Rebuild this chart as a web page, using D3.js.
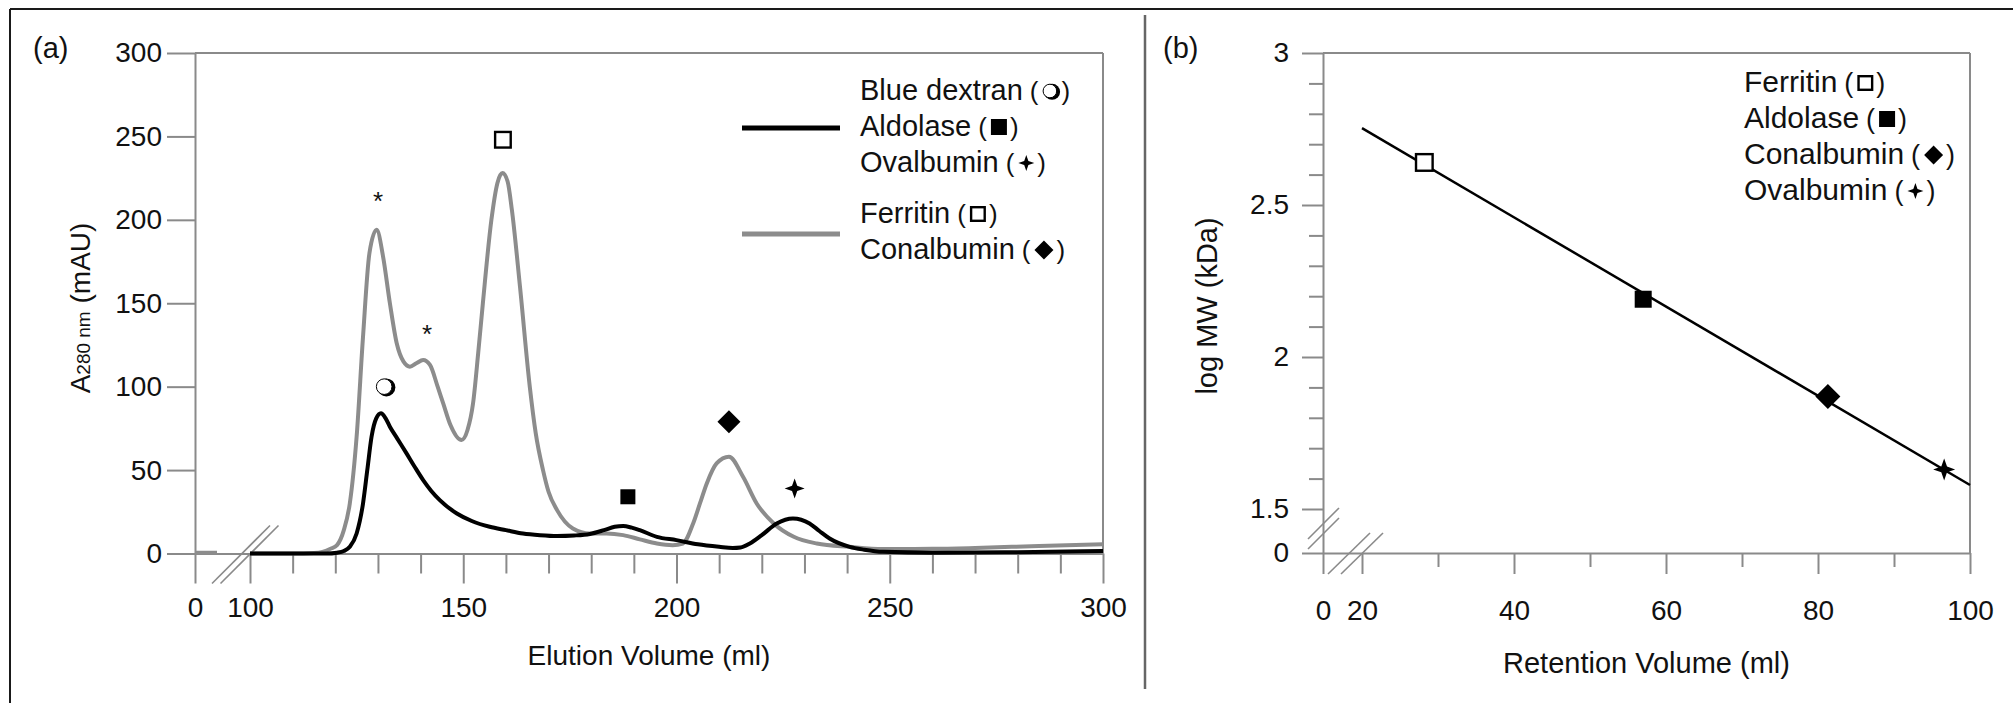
<!DOCTYPE html>
<html>
<head>
<meta charset="utf-8">
<script src="https://cdnjs.cloudflare.com/ajax/libs/d3/7.8.5/d3.min.js"></script>
<style>
body { margin: 0; background: #fff; }
text { font-family: "Liberation Sans", Arial, sans-serif; fill: #111; }
</style>
</head>
<body>
<script>
// (a) elution profiles (ml, mAU)
var grayVol = [0, 40, 70, 100, 110, 115, 117, 119, 120.4, 122, 123.4, 125, 126.5, 128, 129.7, 131.2, 132.8, 134.4, 136, 137.5, 139, 140.6, 142.2, 144, 145.3, 147, 149.6, 151, 152.3, 153.5, 154.6, 156.6, 158, 159.2, 160.4, 161.4, 163.3, 165.6, 167, 168.7, 170, 172, 175.7, 179.7, 183.6, 187.5, 191.4, 195.4, 199.1, 201.5, 203.9, 205.5, 207.1, 209.4, 212.3, 215.6, 218.8, 222.8, 227.5, 232.9, 240.6, 248.4, 260, 270, 285, 300];
var grayAbs = [0.5, 0.5, null, 0, 0, 0.3, 1, 3, 5, 14, 30, 70, 130, 180, 194, 178, 150, 126, 115, 112, 114, 116, 113, 100, 90, 77, 68, 74, 90, 120, 150, 200, 222, 228, 223, 206, 160, 100, 72, 50, 37, 26, 15, 12, 12, 11, 8.5, 6, 5, 6, 18, 30, 42, 54, 58, 46, 30, 18, 10, 6, 4, 2.7, 2.8, 3.3, 4.5, 5.5];

var blackVol = [100, 118, 120.4, 122, 123.4, 125, 126.5, 127.5, 128.5, 129.6, 130.7, 131.8, 132.8, 134.5, 136.7, 138.6, 140.6, 142.5, 144.5, 148.5, 152, 156.2, 160, 164, 168, 172, 176, 179.7, 183, 185.5, 187.5, 189.5, 191.4, 195.4, 200, 205, 210, 213.2, 215, 217.2, 220, 223.5, 227.3, 231.2, 233.5, 235.9, 240.6, 244, 248.4, 260, 280, 300];
var blackAbs = [0, 0, 0.5, 1.5, 4, 12, 30, 50, 70, 81, 84, 81, 76, 69, 60, 52, 44, 37.5, 32, 24, 19.5, 16, 14, 12, 11, 10.5, 10.8, 11.7, 14, 16, 16.5, 15.5, 14, 10, 8, 5.5, 4, 3.3, 3.6, 6, 11, 18, 21, 18, 13.5, 9, 4, 2.3, 1, 0.5, 0.8, 1.5];

// peak labels in (a)
var peakVol = [131.6, 159.3, 188.6, 212.3, 227.7];
var peakAbs = [100, 248, 34, 79, 39];
var peakSym = ["shadow", "open", "square", "diamond", "star"];
var asteriskVol = [130, 141.5];
var asteriskAbs = [215, 135];

var legendNamesA = ["Blue dextran", "Aldolase", "Ovalbumin", "Ferritin", "Conalbumin"];
var legendSymsA = ["shadow", "square", "star", "open", "diamond"];

// (b) calibration
var proteinsB = ["Ferritin", "Aldolase", "Conalbumin", "Ovalbumin"];
var symsB = ["open", "square", "diamond", "star"];
var retVol = [28.2, 57.0, 81.3, 96.6];
var logMW = [2.64, 2.19, 1.87, 1.63];
var fitVol = [20, 100];
var fitLog = [2.753, 1.579];

// tick values
var xTicksA = [0, 100, 150, 200, 250, 300];
var xMinorA = [110, 120, 130, 140, 160, 170, 180, 190, 210, 220, 230, 240, 260, 270, 280, 290];
var yTicksA = [0, 50, 100, 150, 200, 250, 300];
var xTicksB = [0, 20, 40, 60, 80, 100];
var xMinorB = [30, 50, 70, 90];
var yTicksB = [0, 1.5, 2, 2.5, 3];
var yMinorB = [1.6, 1.7, 1.8, 1.9, 2.1, 2.2, 2.3, 2.4, 2.6, 2.7, 2.8, 2.9];

var axisGray = "#8a8a8a";

var svg = d3.select("body").append("svg")
  .attr("width", 2013)
  .attr("height", 703);

// broken axes -> polylinear scales
var xA = d3.scaleLinear().domain([0, 100, 300]).range([195, 250, 1103]);
var yA = d3.scaleLinear().domain([0, 300]).range([553.5, 53]);
var xB = d3.scaleLinear().domain([0, 20, 100]).range([1323, 1362, 1970]);
var yB = d3.scaleLinear().domain([0, 1.5, 3]).range([553, 509, 53]);

// outer frame + divider
svg.append("line").attr("x1", 10).attr("y1", 9).attr("x2", 2013).attr("y2", 9)
  .attr("stroke", "#1a1a1a").attr("stroke-width", 2);
svg.append("line").attr("x1", 10).attr("y1", 9).attr("x2", 10).attr("y2", 703)
  .attr("stroke", "#1a1a1a").attr("stroke-width", 2);
svg.append("line").attr("x1", 1145).attr("y1", 15).attr("x2", 1145).attr("y2", 689)
  .attr("stroke", "#666").attr("stroke-width", 2.5);

function styleAxis(g, fs) {
  g.attr("font-family", null).attr("font-size", null);
  g.select(".domain").attr("stroke", axisGray).attr("stroke-width", 2);
  g.selectAll(".tick line").attr("stroke", axisGray).attr("stroke-width", 2);
  g.selectAll(".tick text").attr("fill", "#111").style("font-size", fs + "px");
}

function drawSym(g, type, cx, cy, s) {
  if (type == "shadow") {
    g.append("circle").attr("cx", cx + 1.6).attr("cy", cy + 0.8).attr("r", s / 2).attr("fill", "#000");
    g.append("circle").attr("cx", cx - 0.6).attr("cy", cy).attr("r", s / 2 - 1.2)
      .attr("fill", "#fff").attr("stroke", "#000").attr("stroke-width", 1);
  } else if (type == "square") {
    g.append("rect").attr("x", cx - s / 2).attr("y", cy - s / 2).attr("width", s).attr("height", s).attr("fill", "#000");
  } else if (type == "open") {
    g.append("rect").attr("x", cx - s / 2 + 1.2).attr("y", cy - s / 2 + 1.2)
      .attr("width", s - 2.4).attr("height", s - 2.4)
      .attr("fill", "#fff").attr("stroke", "#000").attr("stroke-width", 2.4);
  } else if (type == "diamond") {
    var h = s / 2;
    g.append("path").attr("d", "M" + cx + "," + (cy - h) + "L" + (cx + h) + "," + cy + "L" + cx + "," + (cy + h) + "L" + (cx - h) + "," + cy + "Z")
      .attr("fill", "#000");
  } else if (type == "star") {
    var r = s / 2, k = r * 0.26;
    var pts = [[0, -r], [k, -k], [r, 0], [k, k], [0, r], [-k, k], [-r, 0], [-k, -k]];
    g.append("path").attr("d", "M" + pts.map(function(p) { return (cx + p[0]) + "," + (cy + p[1]); }).join("L") + "Z")
      .attr("fill", "#000");
  }
}

// legend row: name + (symbol)
function legendRow(g, x, y, name, sym, fs, ss) {
  var t = g.append("text").attr("x", x).attr("y", y).style("font-size", fs + "px").text(name);
  var w = t.node().getComputedTextLength();
  var p1 = g.append("text").attr("x", x + w + 7).attr("y", y).style("font-size", (fs - 3) + "px").text("(");
  var pw = p1.node().getComputedTextLength();
  var sx = x + w + 7 + pw + 4;
  drawSym(g, sym, sx + ss / 2, y - 9, ss);
  g.append("text").attr("x", sx + ss + 3).attr("y", y).style("font-size", (fs - 3) + "px").text(")");
}

// ================= panel (a) =================
var gA = svg.append("g");

gA.append("line").attr("x1", xA(0)).attr("y1", yA(300)).attr("x2", xA(300)).attr("y2", yA(300))
  .attr("stroke", axisGray).attr("stroke-width", 2);
gA.append("line").attr("x1", xA(300)).attr("y1", yA(300)).attr("x2", xA(300)).attr("y2", yA(0))
  .attr("stroke", axisGray).attr("stroke-width", 2);

var axXA = gA.append("g").attr("transform", "translate(0," + yA(0) + ")")
  .call(d3.axisBottom(xA).tickValues(xTicksA).tickSize(30).tickPadding(14).tickSizeOuter(0));
styleAxis(axXA, 28);
var axXAm = gA.append("g").attr("transform", "translate(0," + yA(0) + ")")
  .call(d3.axisBottom(xA).tickValues(xMinorA).tickSize(20).tickFormat("").tickSizeOuter(0));
styleAxis(axXAm, 28);
axXAm.select(".domain").remove();

var axYA = gA.append("g").attr("transform", "translate(" + xA(0) + ",0)")
  .call(d3.axisLeft(yA).tickValues(yTicksA).tickSize(28).tickPadding(5).tickSizeOuter(0));
styleAxis(axYA, 28);

// axis break marks
var bxA = xA(100) - 8, byA = yA(0);
[0, 8.5].forEach(function(o) {
  gA.append("line").attr("x1", bxA + o - 30).attr("y1", byA + 30).attr("x2", bxA + o + 28).attr("y2", byA - 28)
    .attr("stroke", axisGray).attr("stroke-width", 1.6);
});

var lineA = d3.line()
  .defined(function(d) { return d[1] != null; })
  .x(function(d) { return xA(d[0]); })
  .y(function(d) { return yA(d[1]); })
  .curve(d3.curveMonotoneX);

gA.append("path").datum(d3.zip(grayVol, grayAbs)).attr("d", lineA)
  .attr("fill", "none").attr("stroke", "#8c8c8c").attr("stroke-width", 4);
gA.append("path").datum(d3.zip(blackVol, blackAbs)).attr("d", lineA)
  .attr("fill", "none").attr("stroke", "#000").attr("stroke-width", 4);

var peakSize = { shadow: 18, open: 18, square: 15, diamond: 23, star: 20 };
peakVol.forEach(function(v, i) {
  drawSym(gA, peakSym[i], xA(v), yA(peakAbs[i]), peakSize[peakSym[i]]);
});
asteriskVol.forEach(function(v, i) {
  gA.append("text").attr("x", xA(v)).attr("y", yA(asteriskAbs[i]) + 15)
    .attr("text-anchor", "middle").style("font-size", "26px").text("*");
});

gA.append("text").attr("x", 33).attr("y", 58).style("font-size", "29px").text("(a)");

gA.append("text").attr("x", xA(0) / 2 + (xA(300)) / 2).attr("y", 665)
  .attr("text-anchor", "middle").style("font-size", "28px").text("Elution Volume (ml)");

var yt = gA.append("text").attr("transform", "translate(90,308) rotate(-90)")
  .attr("text-anchor", "middle").style("font-size", "28px");
yt.append("tspan").text("A");
yt.append("tspan").style("font-size", "19px").text("280 nm");
yt.append("tspan").text(" (mAU)");

// legend (a)
var legA = gA.append("g");
legendNamesA.forEach(function(n, i) {
  var y = 100 + i * 36 + (i >= 3 ? 15 : 0);
  legendRow(legA, 860, y, n, legendSymsA[i], 29, n == "Conalbumin" ? 19 : 16);
});
legA.append("line").attr("x1", 742).attr("x2", 840).attr("y1", 128).attr("y2", 128)
  .attr("stroke", "#000").attr("stroke-width", 5);
legA.append("line").attr("x1", 742).attr("x2", 840).attr("y1", 234).attr("y2", 234)
  .attr("stroke", "#8c8c8c").attr("stroke-width", 5);

// ================= panel (b) =================
var gB = svg.append("g");

gB.append("line").attr("x1", xB(0)).attr("y1", yB(3)).attr("x2", xB(100)).attr("y2", yB(3))
  .attr("stroke", axisGray).attr("stroke-width", 2);
gB.append("line").attr("x1", xB(100)).attr("y1", yB(3)).attr("x2", xB(100)).attr("y2", yB(0))
  .attr("stroke", axisGray).attr("stroke-width", 2);

var axXB = gB.append("g").attr("transform", "translate(0," + yB(0) + ")")
  .call(d3.axisBottom(xB).tickValues(xTicksB).tickSize(21).tickPadding(26).tickSizeOuter(0));
styleAxis(axXB, 28);
var axXBm = gB.append("g").attr("transform", "translate(0," + yB(0) + ")")
  .call(d3.axisBottom(xB).tickValues(xMinorB).tickSize(14).tickFormat("").tickSizeOuter(0));
styleAxis(axXBm, 28);
axXBm.select(".domain").remove();

var axYB = gB.append("g").attr("transform", "translate(" + xB(0) + ",0)")
  .call(d3.axisLeft(yB).tickValues(yTicksB).tickSize(21).tickPadding(13).tickSizeOuter(0)
    .tickFormat(function(d) { return String(d); }));
styleAxis(axYB, 28);
var axYBm = gB.append("g").attr("transform", "translate(" + xB(0) + ",0)")
  .call(d3.axisLeft(yB).tickValues(yMinorB).tickSize(14).tickFormat("").tickSizeOuter(0));
styleAxis(axYBm, 28);
axYBm.select(".domain").remove();

// break marks on both axes
var ax0 = xB(0), ay0 = yB(0);
[29, 19].forEach(function(o) {
  gB.append("line").attr("x1", ax0 - 15).attr("y1", ay0 - o + 15).attr("x2", ax0 + 16).attr("y2", ay0 - o - 16)
    .attr("stroke", axisGray).attr("stroke-width", 1.6);
});
[xB(20) - 13, xB(20)].forEach(function(bx) {
  gB.append("line").attr("x1", bx - 21).attr("y1", ay0 + 21).attr("x2", bx + 21).attr("y2", ay0 - 20)
    .attr("stroke", axisGray).attr("stroke-width", 1.6);
});

gB.append("path").datum(d3.zip(fitVol, fitLog))
  .attr("d", d3.line().x(function(d) { return xB(d[0]); }).y(function(d) { return yB(d[1]); }))
  .attr("fill", "none").attr("stroke", "#000").attr("stroke-width", 2.5);

var sizeB = { open: 19, square: 17, diamond: 25, star: 22 };
retVol.forEach(function(v, i) {
  drawSym(gB, symsB[i], xB(v), yB(logMW[i]), sizeB[symsB[i]]);
});

gB.append("text").attr("x", 1163).attr("y", 58).style("font-size", "29px").text("(b)");

gB.append("text").attr("x", (xB(0) + xB(100)) / 2).attr("y", 673)
  .attr("text-anchor", "middle").style("font-size", "29px").text("Retention Volume (ml)");

gB.append("text").attr("transform", "translate(1217,306) rotate(-90)")
  .attr("text-anchor", "middle").style("font-size", "29px").text("log MW (kDa)");

var legB = gB.append("g");
proteinsB.forEach(function(n, i) {
  legendRow(legB, 1744, 92 + i * 36, n, symsB[i], 30, symsB[i] == "diamond" ? 19 : 16);
});
</script>
</body>
</html>
